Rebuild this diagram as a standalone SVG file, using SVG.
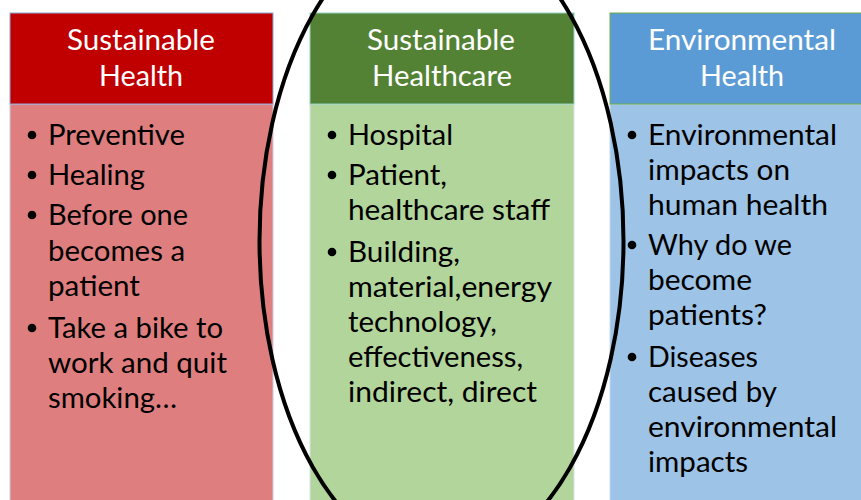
<svg xmlns="http://www.w3.org/2000/svg" width="861" height="500" viewBox="0 0 861 500">
<style>
.hd{font-family:Lato,"Open Sans","DejaVu Sans",sans-serif;font-size:29px;fill:#ffffff;}
.tx{font-family:Lato,"Open Sans","DejaVu Sans",sans-serif;font-size:29px;fill:#000000;}
.b{fill:#000000;}
</style>
<rect width="861" height="500" fill="#ffffff"/>
<g id="connectors"/>
<g id="sustainable-health">
<rect x="10" y="104" width="263" height="400" fill="#DF7E7E" stroke="#C9CCE0" stroke-width="1"/>
<rect x="10" y="13" width="263" height="91" fill="#C00000" stroke="#8EA9DB" stroke-width="1"/>
<text class="hd" x="67" y="50" textLength="148" lengthAdjust="spacingAndGlyphs">Sustainable</text>
<text class="hd" x="99" y="86" textLength="84" lengthAdjust="spacingAndGlyphs">Health</text>
<circle class="b" cx="32" cy="135" r="4.3"/>
<text class="tx" x="48" y="145" textLength="137" lengthAdjust="spacingAndGlyphs">Preventive</text>
<circle class="b" cx="32" cy="175" r="4.3"/>
<text class="tx" x="48" y="185" textLength="97" lengthAdjust="spacingAndGlyphs">Healing</text>
<circle class="b" cx="32" cy="215" r="4.3"/>
<text class="tx" x="48" y="225" textLength="140" lengthAdjust="spacingAndGlyphs">Before one</text>
<text class="tx" x="48" y="261" textLength="137" lengthAdjust="spacingAndGlyphs">becomes a</text>
<text class="tx" x="48" y="296" textLength="92" lengthAdjust="spacingAndGlyphs">patient</text>
<circle class="b" cx="32" cy="328" r="4.3"/>
<text class="tx" x="48" y="338" textLength="175" lengthAdjust="spacingAndGlyphs">Take a bike to</text>
<text class="tx" x="48" y="373" textLength="179" lengthAdjust="spacingAndGlyphs">work and quit</text>
<text class="tx" x="48" y="408" textLength="129" lengthAdjust="spacingAndGlyphs">smoking…</text>
</g>
<g id="sustainable-healthcare">
<rect x="310" y="104" width="264" height="400" fill="#B2D59B" stroke="#D4E4EC" stroke-width="1"/>
<rect x="310" y="13" width="264" height="91" fill="#548235" stroke="#8FD3C0" stroke-width="1"/>
<text class="hd" x="367" y="50" textLength="148" lengthAdjust="spacingAndGlyphs">Sustainable</text>
<text class="hd" x="372" y="86" textLength="140" lengthAdjust="spacingAndGlyphs">Healthcare</text>
<circle class="b" cx="332" cy="135" r="4.3"/>
<text class="tx" x="348" y="145" textLength="105" lengthAdjust="spacingAndGlyphs">Hospital</text>
<circle class="b" cx="332" cy="175" r="4.3"/>
<text class="tx" x="348" y="185" textLength="99" lengthAdjust="spacingAndGlyphs">Patient,</text>
<text class="tx" x="348" y="220" textLength="202" lengthAdjust="spacingAndGlyphs">healthcare staff</text>
<circle class="b" cx="332" cy="252" r="4.3"/>
<text class="tx" x="348" y="262" textLength="112" lengthAdjust="spacingAndGlyphs">Building,</text>
<text class="tx" x="348" y="297" textLength="204" lengthAdjust="spacingAndGlyphs">material,energy</text>
<text class="tx" x="348" y="332" textLength="149" lengthAdjust="spacingAndGlyphs">technology,</text>
<text class="tx" x="348" y="367" textLength="175" lengthAdjust="spacingAndGlyphs">effectiveness,</text>
<text class="tx" x="348" y="402" textLength="189" lengthAdjust="spacingAndGlyphs">indirect, direct</text>
</g>
<g id="environmental-health">
<rect x="610" y="104" width="264" height="400" fill="#9DC3E6" stroke="#C9D9EC" stroke-width="1"/>
<rect x="610" y="13" width="264" height="91" fill="#5B9BD5" stroke="#70AD47" stroke-width="1"/>
<text class="hd" x="648" y="50" textLength="188" lengthAdjust="spacingAndGlyphs">Environmental</text>
<text class="hd" x="700" y="86" textLength="84" lengthAdjust="spacingAndGlyphs">Health</text>
<circle class="b" cx="632" cy="135" r="4.3"/>
<text class="tx" x="648" y="145" textLength="189" lengthAdjust="spacingAndGlyphs">Environmental</text>
<text class="tx" x="648" y="180" textLength="142" lengthAdjust="spacingAndGlyphs">impacts on</text>
<text class="tx" x="648" y="215" textLength="180" lengthAdjust="spacingAndGlyphs">human health</text>
<circle class="b" cx="632" cy="245" r="4.3"/>
<text class="tx" x="648" y="255" textLength="144" lengthAdjust="spacingAndGlyphs">Why do we</text>
<text class="tx" x="648" y="290" textLength="104" lengthAdjust="spacingAndGlyphs">become</text>
<text class="tx" x="648" y="325" textLength="119" lengthAdjust="spacingAndGlyphs">patients?</text>
<circle class="b" cx="632" cy="357" r="4.3"/>
<text class="tx" x="648" y="367" textLength="110" lengthAdjust="spacingAndGlyphs">Diseases</text>
<text class="tx" x="648" y="402" textLength="129" lengthAdjust="spacingAndGlyphs">caused by</text>
<text class="tx" x="648" y="437" textLength="189" lengthAdjust="spacingAndGlyphs">environmental</text>
<text class="tx" x="648" y="472" textLength="100" lengthAdjust="spacingAndGlyphs">impacts</text>
</g>
<g id="highlight-ellipse">
<ellipse cx="441.5" cy="241" rx="182" ry="320" fill="none" stroke="#000000" stroke-width="4"/>
</g>
</svg>
